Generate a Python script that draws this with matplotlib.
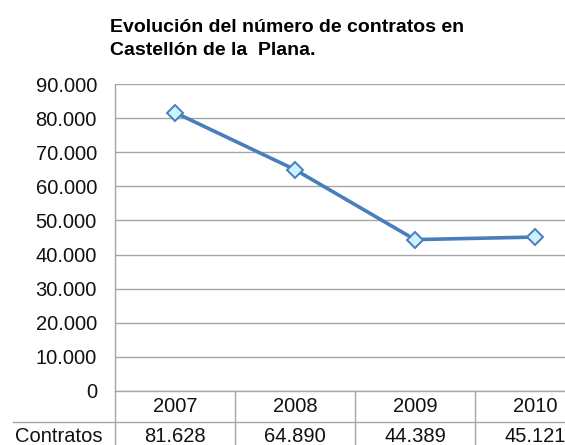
import matplotlib
matplotlib.use("Agg")
import matplotlib.pyplot as plt
import matplotlib.transforms as mtransforms

years = ["2007", "2008", "2009", "2010"]
contratos = [81628, 64890, 44389, 45121]
row_label = "Contratos"
title_lines = ["Evolución del número de contratos en", "Castellón de la  Plana."]
y_ticks = [0, 10000, 20000, 30000, 40000, 50000, 60000, 70000, 80000, 90000]


def fmt(v):
    return f"{v:,}".replace(",", ".")


plt.rcParams['font.family'] = ['Liberation Sans', 'DejaVu Sans']

W, H = 565, 445
fig = plt.figure(figsize=(W / 100, H / 100), dpi=100)
fig.patch.set_facecolor("white")

ax_l, ax_r, ax_t, ax_b = 115, 595, 84, 391
ax = fig.add_axes([ax_l / W, 1 - ax_b / H, (ax_r - ax_l) / W, (ax_b - ax_t) / H])

grid_c = "#A6A6A6"
x = list(range(len(years)))
ax.plot(x, contratos, color="#4A7EBB", lw=2.6, marker="D", ms=8.5,
        mfc="#CCF2FF", mec="#4A7EBB", mew=1.4, zorder=5, clip_on=False)

ax.set_xlim(-0.5, len(years) - 0.5)
ax.set_ylim(0, 90000)
ax.set_yticks(y_ticks)
ax.set_yticklabels([fmt(v) for v in y_ticks], fontsize=14.5, color="#111111")
ax.set_xticks([])
ax.tick_params(axis="y", length=0, pad=13)
ax.grid(axis="y", color=grid_c, lw=1.0)
ax.set_axisbelow(True)
for s in ["top", "right"]:
    ax.spines[s].set_visible(False)
for s in ["left", "bottom"]:
    ax.spines[s].set_color(grid_c)
    ax.spines[s].set_linewidth(1.0)

# table below the plot
axh = ax_b - ax_t
def ay(px):
    return -(px - ax_b) / axh  # pixel y -> axes y

bt = mtransforms.blended_transform_factory(ax.transData, ax.transAxes)
at = ax.transAxes
row1_c = ay(406)
row_sep = ay(422)
row2_c = ay(436.5)
bottom = ay(470)

# vertical left axis continuation
ax.plot([0, 0], [0, bottom], transform=at, color=grid_c, lw=1.0, clip_on=False)
# column separators
for i in range(1, len(years)):
    ax.plot([i - 0.5, i - 0.5], [0, bottom], transform=bt, color=grid_c, lw=1.0, clip_on=False)
# row separator
x_left = (13 - ax_l) / (ax_r - ax_l)
ax.plot([x_left, 1], [row_sep, row_sep], transform=at, color=grid_c, lw=1.0, clip_on=False)

for i, (yr, v) in enumerate(zip(years, contratos)):
    ax.text(i, row1_c, yr, transform=bt, ha="center", va="center", fontsize=14.5,
            color="#111111", clip_on=False)
    ax.text(i, row2_c, fmt(v), transform=bt, ha="center", va="center", fontsize=14.5,
            color="#111111", clip_on=False)
ax.text((102 - ax_l) / (ax_r - ax_l), row2_c, row_label, transform=at, ha="right",
        va="center", fontsize=14.5, color="#111111", clip_on=False)

fig.text(110 / W, 1 - 32 / H, title_lines[0], ha="left", va="baseline",
         fontsize=14, fontweight="bold")
fig.text(110 / W, 1 - 55 / H, title_lines[1], ha="left", va="baseline",
         fontsize=14, fontweight="bold")

fig.savefig("out.png", dpi=100)
